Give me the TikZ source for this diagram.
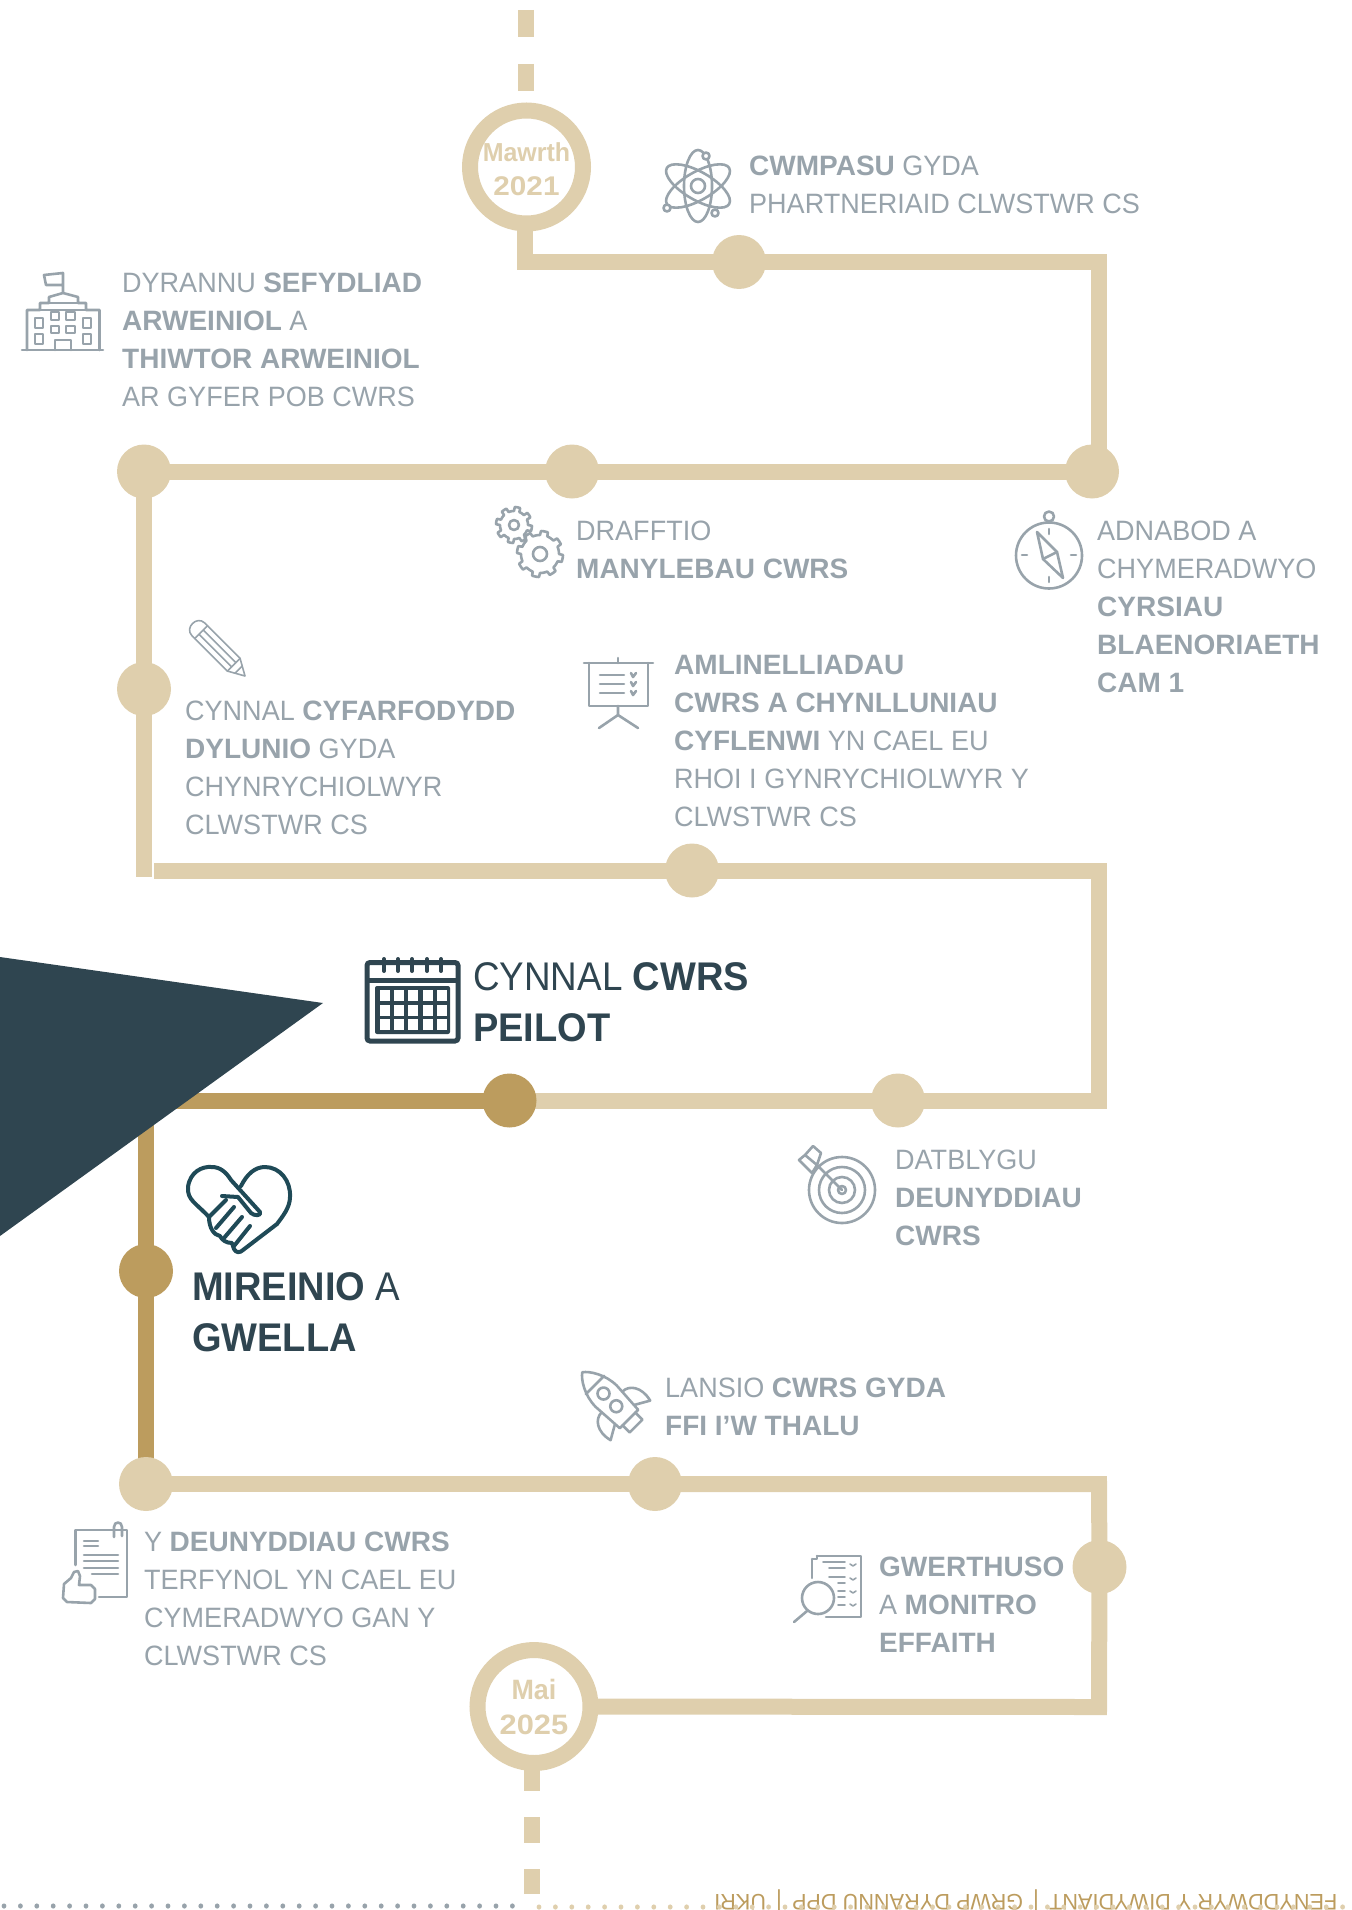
\documentclass[tikz,border=0pt]{standalone}
\usepackage{fontspec}
\setmainfont{Liberation Sans}[FakeStretch=0.965,BoldFeatures={FakeStretch=1.0}]
\newfontfamily\bigfam{Liberation Sans}[FakeStretch=0.92,BoldFeatures={FakeStretch=0.95}]
\newfontfamily\datefont{Liberation Sans}[BoldFeatures={FakeStretch=0.96}]
\newfontfamily\numfont{Liberation Sans}[BoldFeatures={FakeStretch=1.1}]
\usetikzlibrary{calc}
\definecolor{tan}{HTML}{DFCFAD}
\definecolor{gold}{HTML}{BC9C5E}
\definecolor{slate}{HTML}{2F4550}
\definecolor{fog}{HTML}{98A3AB}
\definecolor{teal}{HTML}{1F4A57}
\newcommand{\B}[1]{\textbf{#1}}
\newcommand{\footbar}{\hspace{.45em}|\hspace{.45em}}
\pgfdeclarelayer{under}
\pgfsetlayers{under,main}
\tikzset{
  x=1pt,y=-1pt,
  route/.style={draw=tan,line width=16pt,line join=miter},
  goldroute/.style={draw=gold,line width=16pt,line join=miter},
  dot/.style={circle,fill=tan,minimum size=54pt,inner sep=0pt,outer sep=0pt},
  golddot/.style={circle,fill=gold,minimum size=54pt,inner sep=0pt,outer sep=0pt},
  ring/.style={circle,draw=tan,fill=white,line width=16pt,minimum size=113pt,inner sep=0pt,align=center,text=tan},
  lbl/.style={anchor=north west,inner sep=0pt,align=left,text=fog,font=\fontsize{28}{38}\selectfont},
  biglbl/.style={anchor=north west,inner sep=0pt,align=left,text=slate,font=\bigfam\fontsize{40}{51}\selectfont},
  footer/.style={rotate=180,anchor=base east,inner sep=0pt,text=gold,font=\fontsize{22.5}{24}\selectfont},
  ico/.style={draw=fog,line width=2.6pt,line cap=round,line join=round},
  tealico/.style={draw=teal,line width=4pt,line cap=round,line join=round},
}
\begin{document}
\begin{tikzpicture}
\useasboundingbox (0,0) rectangle (1351,1910);
% upside-down footer text, running off the page
\node[footer] (foot) at (714,1894) {FENYDDWYR Y DIWYDIANT\footbar GRWP DYRANNU DPP\footbar UKRI};
% dots along the foot of the page
\foreach \i in {0,...,31} \fill[fog] ({4+\i*16.4},1906) ellipse (2.4 and 2.6);
\foreach \i in {0,...,49} \fill[tan] ({539+\i*16.4},1907) ellipse (2.4 and 2.6);
% circular nodes
\node[ring,font=\bfseries\fontsize{27}{34}\selectfont] (mawrth) at (526.5,167) {\datefont\bfseries\rule{0pt}{24pt}\fontsize{26}{34}\selectfont Mawrth\\\numfont\bfseries 2021};
\node[ring,font=\bfseries\fontsize{28}{35}\selectfont] (mai) at (534,1706.5) {\datefont\bfseries Mai\\\numfont\bfseries 2025};
\node[dot] (n1) at (739,262) {};
\node[dot] (n2) at (1092,471.5) {};
\node[dot] (n3) at (572,471.5) {};
\node[dot] (n4) at (144,471.5) {};
\node[dot] (n5) at (144,689) {};
\node[dot] (n6) at (692,870.5) {};
\node[dot] (n7) at (898,1100.5) {};
\node[golddot] (n8) at (509.5,1100.5) {};
\node[golddot] (n9) at (146,1271) {};
\node[dot] (n10) at (146,1484) {};
\node[dot] (n11) at (655,1484) {};
\node[dot] (n12) at (1099.5,1567) {};
% corners and free ends
\coordinate (c0a) at (526,10); \coordinate (c0b) at (526,37);
\coordinate (c0c) at (526,64); \coordinate (c0d) at (526,91);
\coordinate (c1) at (525,200);
\coordinate (c1b) at (525,262);
\coordinate (c2) at (1099,262);
\coordinate (c2b) at (1099,471.5);
\coordinate (c3) at (144,877);
\coordinate (c4) at (154,870.5);
\coordinate (c5) at (1099,870.5);
\coordinate (c6) at (1099,1100.5);
\coordinate (c7) at (146,1100.5);
\coordinate (c8) at (1099,1484);
\coordinate (c9) at (1099,1707);
\coordinate (e1a) at (532,1740); \coordinate (e1b) at (532,1791);
\coordinate (e2a) at (532,1817); \coordinate (e2b) at (532,1843);
\coordinate (e3a) at (532,1869); \coordinate (e3b) at (532,1894);
% connectors, under the nodes
\begin{pgfonlayer}{under}
\draw[route] (c0a) -- (c0b);
\draw[route] (c0c) -- (c0d);
\draw[route] (c1) -- (c1b) -- (n1.center);
\draw[route] (n1.center) -- (c2) -- (c2b) -- (n2.center);
\draw[route] (n2.center) -- (n3.center);
\draw[route] (n3.center) -- (n4.center);
\draw[route] (n4.center) -- (n5.center);
\draw[route] (n5.center) -- (c3);
\draw[route] (c4) -- (n6.center);
\draw[route] (n6.center) -- (c5) -- (c6) -- (n7.center);
\draw[route] (n7.center) -- (n8.center);
\draw[goldroute] (n8.center) -- (c7) -- (n9.center);
\draw[goldroute] (n9.center) -- (n10.center);
\draw[route] (n10.center) -- (n11.center);
\draw[route] (n11.center) -- (c8) -- (n12.center);
\draw[route] (n12.center) -- (c9) -- (mai.center);
\draw[route] (e1a) -- (e1b);
\draw[route] (e2a) -- (e2b);
\draw[route] (e3a) -- (e3b);
\end{pgfonlayer}
% dark triangle
\fill[slate] (0,957) -- (323,1003) -- (0,1236) -- cycle;
% labels
\node[lbl] (t1) at (749,156) {\B{CWMPASU} GYDA\\PHARTNERIAID CLWSTWR CS};
\node[lbl] (t2) at (122,273) {DYRANNU \B{SEFYDLIAD}\\\B{ARWEINIOL} A\\\B{THIWTOR ARWEINIOL}\\AR GYFER POB CWRS};
\node[lbl] (t3) at (576,520.5) {DRAFFTIO\\\B{MANYLEBAU CWRS}};
\node[lbl] (t4) at (1097,520.5) {ADNABOD A\\CHYMERADWYO\\\B{CYRSIAU}\\\B{BLAENORIAETH}\\\B{CAM 1}};
\node[lbl] (t5) at (674,655) {\B{AMLINELLIADAU}\\\B{CWRS A CHYNLLUNIAU}\\\B{CYFLENWI} YN CAEL EU\\RHOI I GYNRYCHIOLWYR Y\\CLWSTWR CS};
\node[lbl] (t6) at (185,701) {CYNNAL \B{CYFARFODYDD}\\\B{DYLUNIO} GYDA\\CHYNRYCHIOLWYR\\CLWSTWR CS};
\node[biglbl] (t7) at (473,962) {CYNNAL \B{CWRS}\\\B{PEILOT}};
\node[biglbl] (t8) at (192,1272) {\B{MIREINIO} A\\\B{GWELLA}};
\node[lbl] (t9) at (895,1150) {DATBLYGU\\\B{DEUNYDDIAU}\\\B{CWRS}};
\node[lbl] (t10) at (665,1378) {LANSIO \B{CWRS GYDA}\\\B{FFI I’W THALU}};
\node[lbl] (t11) at (144,1532) {Y \B{DEUNYDDIAU CWRS}\\TERFYNOL YN CAEL EU\\CYMERADWYO GAN Y\\CLWSTWR CS};
\node[lbl] (t12) at (879,1557) {\B{GWERTHUSO}\\A \B{MONITRO}\\\B{EFFAITH}};
% atom icon
\begin{scope}[shift={(698,186)}]
  \foreach \a in {90,30,-30} \draw[ico,rotate=\a] (0,0) ellipse (36 and 14);
  \draw[ico] (0,0) circle (7);
  \draw[ico,fill=white] (8,-30) circle (3.5);
  \draw[ico,fill=white] (-31,22) circle (3.5);
  \draw[ico,fill=white] (17,27) circle (3.5);
\end{scope}
% building icon
\draw[ico] (22,350) -- (103,350);
\draw[ico] (27,350) -- (27,310) -- (40,310) -- (40,303) -- (49,303) -- (49,297) -- (63,293) -- (78,297) -- (78,303) -- (86,303) -- (86,310) -- (99.5,310) -- (99.5,350);
\draw[ico] (40,310) -- (86,310) (49,303) -- (78,303);
\draw[ico] (63,293) -- (63,273) -- (44,275) -- (46,285) -- (63,285);
\draw[ico] (55,350) -- (55,340) -- (71,340) -- (71,350);
\foreach \xa/\ya/\xb/\yb in {51/312/59/320, 66/312/75/320, 51/326/59/333, 66/326/75/333, 35/318/43/328, 83/318/91/328, 35/334/43/344, 83/334/91/344}
  \draw[ico] (\xa,\ya) rectangle (\xb,\yb);
% gears icon
\foreach \gx/\gy/\gr/\gh in {514/525/14/5,540/554/19/7} {
  \draw[ico] plot[domain=0:360,samples=145] ({\gx+(\gr+(sin(8*\x)>0?4:0))*cos(\x)},{\gy+(\gr+(sin(8*\x)>0?4:0))*sin(\x)}) -- cycle;
  \draw[ico] (\gx,\gy) circle (\gh);
}
% compass icon
\draw[ico] (1049,555.5) circle (33);
\draw[ico] (1049,516.5) circle (5);
\draw[ico] (1037,532) -- (1057,552) -- (1063,578) -- (1043,559) -- cycle;
\draw[ico] (1043,559) -- (1057,552);
\foreach \a/\b/\c/\d in {1049/529/1049/534, 1049/577/1049/582, 1022/555/1027/555, 1071/555/1076/555} \draw[ico] (\a,\b) -- (\c,\d);
% pencil icon
\begin{scope}[shift={(245,676)},rotate=135]
  \draw[ico,line width=1.6pt] (0,0) -- (16,-9) -- (66,-9) .. controls (77,-9) and (77,9) .. (66,9) -- (16,9) -- cycle;
  \draw[ico,line width=1.6pt] (16,-9) -- (16,9) (9,-5) -- (9,5);
  \draw[ico,line width=1.6pt] (16,-3) -- (62,-3) (16,3) -- (62,3) (62,-9) -- (62,9);
\end{scope}
% presentation board icon
\draw[ico] (584,663) -- (653,663);
\draw[ico] (618,658) -- (618,663);
\draw[ico] (589,663) -- (589,706) -- (648,706) -- (648,663);
\draw[ico] (618,706) -- (618,715) (599,728) -- (618,715) -- (638,728);
\foreach \y in {675,684,693} {
  \draw[ico] (600,\y) -- (624,\y);
  \draw[ico] (631,\y-2) -- (633,\y+2) -- (636,\y-2);
}
% calendar icon
\draw[draw=slate,line width=5pt,rounded corners=3pt] (367,962.5) rectangle (458,1041);
\draw[slate,line width=5pt] (367,980) -- (458,980);
\foreach \x in {384,398,412,427,441} \draw[slate,line width=4pt,line cap=round] (\x,959) -- (\x,971);
\fill[slate,rounded corners=2pt] (375,986) rectangle (450,1034);
\foreach \x in {380,394,408,422.5,436.5} \foreach \y in {990,1005,1019} \fill[white] (\x,\y) rectangle ++(10,10.5);
% heart icon
\draw[tealico] (209,1217) .. controls (196,1203) and (187,1200) .. (188,1187) .. controls (190,1172) and (202,1166) .. (212,1167) .. controls (220,1167) and (226,1172) .. (231,1180) -- (260,1212) .. controls (262,1216) and (254,1216) .. (251,1213) -- (238,1197) -- (222,1196);
\draw[tealico] (241,1186) .. controls (247,1174) and (255,1167) .. (265,1167) .. controls (280,1167) and (291,1181) .. (290,1197) .. controls (290,1208) and (282,1217) .. (277,1224) -- (243,1250) .. controls (240,1253) and (236,1253) .. (234,1249) -- (232,1243) .. controls (226,1243) and (222,1240) .. (220,1236) .. controls (214,1235) and (209,1228) .. (209,1217) -- (226,1200);
\draw[tealico] (234,1207) -- (216,1228) (242,1217) -- (224,1238) (250,1226) -- (234,1246);
% target icon
\foreach \r in {33,23,13} \draw[ico] (842,1190) circle (\r);
\draw[ico] (842,1190) circle (4);
\draw[ico] (842,1190) -- (817,1165);
\draw[ico] (817,1165) -- (805,1155) -- (799,1160) -- (812,1173) -- (817,1165) -- (821,1153) -- (813,1146) -- (805,1155);
% rocket icon
\begin{scope}[shift={(612,1402)},rotate=45]
  \draw[ico] (-13,24) -- (-15,-8) .. controls (-15,-24) and (-6,-38) .. (0,-42) .. controls (6,-38) and (15,-24) .. (15,-8) -- (13,24) -- cycle;
  \draw[ico] (-13,-24) -- (13,-24);
  \draw[ico] (-15,0) .. controls (-24,0) and (-32,10) .. (-28,26) -- (-14,18);
  \draw[ico] (15,0) .. controls (24,0) and (32,10) .. (28,26) -- (14,18);
  \draw[ico] (-9,24) -- (-9,34) -- (9,34) -- (9,24);
  \draw[ico] (0,-12) circle (6) (0,6) circle (6);
\end{scope}
% approved document icon
\draw[ico] (75.5,1565) -- (75.5,1530) -- (127,1530) -- (127,1597) -- (99,1597);
\draw[ico] (84,1541) -- (98,1541) (84,1546) -- (98,1546);
\foreach \y in {1555,1561,1568} \draw[ico] (84,\y) -- (118,\y);
\draw[ico] (92,1574) -- (118,1574);
\draw[ico] (114,1537) -- (114,1527) .. controls (114,1521) and (122,1521) .. (122,1527) -- (122,1536);
\draw[ico] (74,1572) -- (71,1578) -- (64,1584) -- (63,1598) -- (67,1602) -- (91,1603) -- (95,1599) -- (95,1589) -- (91,1585) -- (79,1585) -- (80,1576) -- (78,1571) -- cycle;
% magnifier document icon
\draw[ico] (817,1556) -- (861,1556) -- (861,1617) -- (826,1617);
\draw[ico] (812,1559) -- (812,1578) (812,1559) -- (817,1559) -- (817,1556);
\draw[ico] (818,1598) circle (16);
\draw[ico] (807,1611) -- (794,1622);
\foreach \xa/\xb/\y in {823/845/1562, 829/845/1568, 829/845/1577, 838/845/1583, 838/845/1591, 838/845/1597, 838/845/1605} \draw[ico,line width=1.6pt] (\xa,\y) -- (\xb,\y);
\foreach \y in {1564,1578,1591,1604} \draw[ico,line width=1.6pt] (850,\y) -- (853,\y+2) -- (856,\y);
\end{tikzpicture}
\end{document}
